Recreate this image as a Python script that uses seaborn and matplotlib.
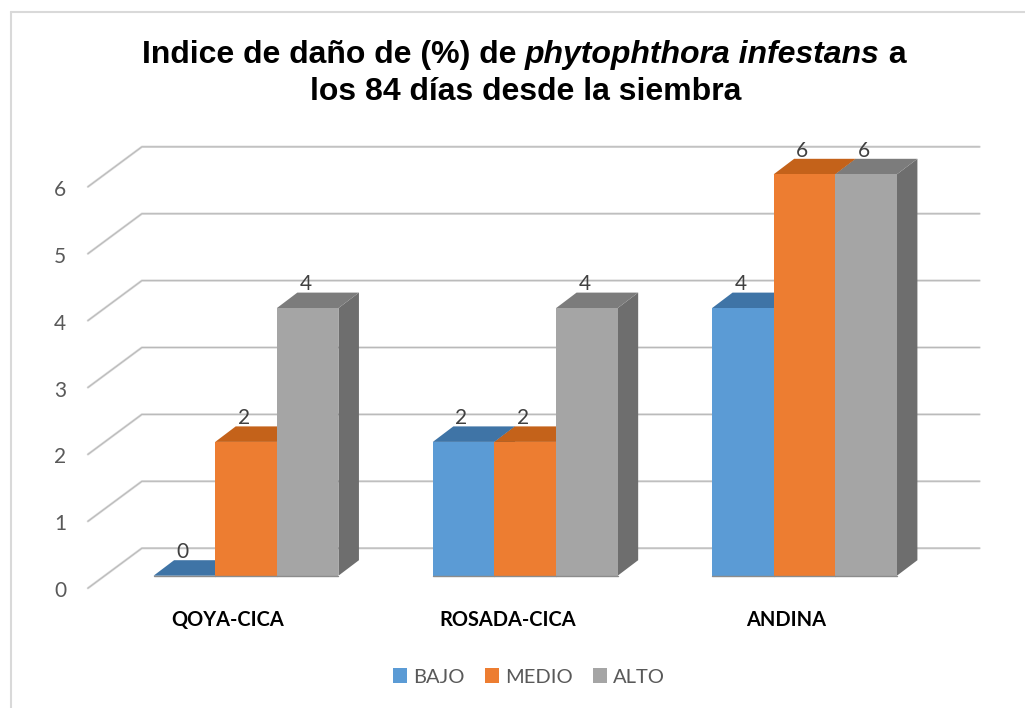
"""Indice de dano chart: seaborn bars with a hand built 3D look."""

import matplotlib
matplotlib.use("Agg")
import matplotlib.pyplot as plt
import pandas as pd
import seaborn as sns
from matplotlib.lines import Line2D
from matplotlib.patches import Polygon
from matplotlib.transforms import Affine2D, IdentityTransform

CATEGORIES = ["QOYA-CICA", "ROSADA-CICA", "ANDINA"]
LEVELS = ["BAJO", "MEDIO", "ALTO"]
BAJO = [0, 2, 4]
MEDIO = [2, 2, 6]
ALTO = [4, 4, 6]
Y_TICKS = [0, 1, 2, 3, 4, 5, 6]

FRONT_COLORS = ["#5B9BD5", "#ED7D31", "#A5A5A5"]
TOP_COLORS = ["#3F74A6", "#C4621A", "#7C7C7C"]
SIDE_COLORS = ["#34658F", "#B0560E", "#6E6E6E"]
TEXT_GREY = "#595959"

W, H = 1025, 708
DEPTH = (20.5, 15.5)      # bar depth in pixels
WALL_FRONT = (-18.5, -12.5)
WALL_BACK = (35.5, 27.5)

sns.set_theme(style="white")
plt.rcParams["font.family"] = ["Lato", "DejaVu Sans"]

df = pd.DataFrame({
    "categoria": CATEGORIES * 3,
    "nivel": [l for l in LEVELS for _ in CATEGORIES],
    "valor": BAJO + MEDIO + ALTO,
})

fig = plt.figure(figsize=(W / 100, H / 100), dpi=100, facecolor="white")
# axes sit on the front plane of the bars
ax = fig.add_axes([106.4 / W, (H - 575.7) / H, (944.1 - 106.4) / W, (575.7 - 174.3) / H])
ax.patch.set_alpha(0)

sns.barplot(data=df, x="categoria", y="valor", hue="nivel", hue_order=LEVELS,
            palette=FRONT_COLORS, saturation=1, width=0.662, gap=0, linewidth=0,
            errorbar=None, ax=ax)
ax.set_xlim(-0.5, 2.5)
ax.set_ylim(0, 6)
ax.set_xlabel("")
ax.set_ylabel("")
sns.despine(ax=ax, left=True, bottom=True)


def px(x, y, dx=0, dy=0):
    sx, sy = ax.transData.transform((x, y))
    return sx + dx, sy + dy


# --- walls and grid ---
for v in Y_TICKS:
    p0 = px(-0.5, v, *WALL_FRONT)
    p1 = px(-0.5, v, *WALL_BACK)
    p2 = px(2.5, v, *WALL_BACK)
    xs, ys = zip(p0, p1, p2)
    for lw, col in [(1.7, "#DADADA"), (0.7, "#B8B8B8")]:
        ax.add_artist(Line2D(xs, ys, color=col, lw=lw, transform=IdentityTransform(),
                             clip_on=False, zorder=1))

# --- bar tops and sides ---
for i, cont in enumerate(ax.containers):
    for bar in cont:
        x0, x1 = bar.get_x(), bar.get_x() + bar.get_width()
        val = bar.get_height()
        bar.set_zorder(4 + 2 * i)
        top = [px(x0, val), px(x1, val), px(x1, val, *DEPTH), px(x0, val, *DEPTH)]
        side = [px(x1, 0), px(x1, val), px(x1, val, *DEPTH), px(x1, 0, *DEPTH)]
        for pts, col in [(side, SIDE_COLORS[i]), (top, TOP_COLORS[i])]:
            ax.add_artist(Polygon(pts, closed=True, facecolor=col, edgecolor="none",
                                  transform=IdentityTransform(), clip_on=False, zorder=3 + 2 * i))
        # thin dark foot along the base of the front face
        ax.plot([x0, x1], [0, 0], color="#8C8C8C", lw=1.0, clip_on=False, zorder=15)
        ax.annotate(f"{val:.0f}", (x0 + (x1 - x0) / 2, val), xytext=(-1.5, 17), textcoords="offset points",
                    ha="center", va="center", fontsize=15, color="#404040",
                    annotation_clip=False, zorder=20)

# --- ticks ---
ax.set_yticks(Y_TICKS)
ax.tick_params(axis="y", length=0, pad=29, labelsize=15, labelcolor=TEXT_GREY)
ax.tick_params(axis="x", length=0, pad=24.5)
for lab in ax.get_yticklabels():
    lab.set_transform(lab.get_transform() + Affine2D().translate(0, -13.5))
for lab in ax.get_xticklabels():
    lab.set_transform(lab.get_transform() + Affine2D().translate(-18, 0))
    lab.set_fontweight("bold")
    lab.set_fontsize(14.4)
    lab.set_color("black")

sns.move_legend(ax, "center", bbox_to_anchor=(529 / W, (H - 677) / H),
                bbox_transform=fig.transFigure, ncol=3, title=None, frameon=False,
                fontsize=14.5, handlelength=0.7, handleheight=0.7,
                handletextpad=0.3, columnspacing=1.0, borderpad=0)
for txt in ax.get_legend().get_texts():
    txt.set_color(TEXT_GREY)

# --- title, the species name goes in italics ---
renderer = fig.canvas.get_renderer()
line1 = [("Indice de daño de (%) de ", "normal"), ("phytophthora infestans", "italic"), (" a", "normal")]
pieces = []
for s, style in line1:
    t = fig.text(0, (H - 63) / H, s.replace(" ", "\u00a0"), family="Liberation Sans", fontweight="bold",
                 fontstyle=style, fontsize=23, color="black", va="baseline")
    pieces.append(t)
widths = [t.get_window_extent(renderer).width for t in pieces]
xpos = 524 - sum(widths) / 2
for t, w in zip(pieces, widths):
    t.set_x(xpos / W)
    xpos += w
fig.text(525.5 / W, (H - 100) / H, "los 84 días desde la siembra", family="Liberation Sans",
         fontweight="bold", fontsize=23, color="black", ha="center", va="baseline")

# --- chart frame, only top and left show in the crop ---
for xs, ys in [((11, W), (H - 12, H - 12)), ((11, 11), (H - 12, 0))]:
    fig.add_artist(Line2D([x / W for x in xs], [y / H for y in ys], color="#D9D9D9", lw=1.5))

fig.savefig("out.png", dpi=100)
